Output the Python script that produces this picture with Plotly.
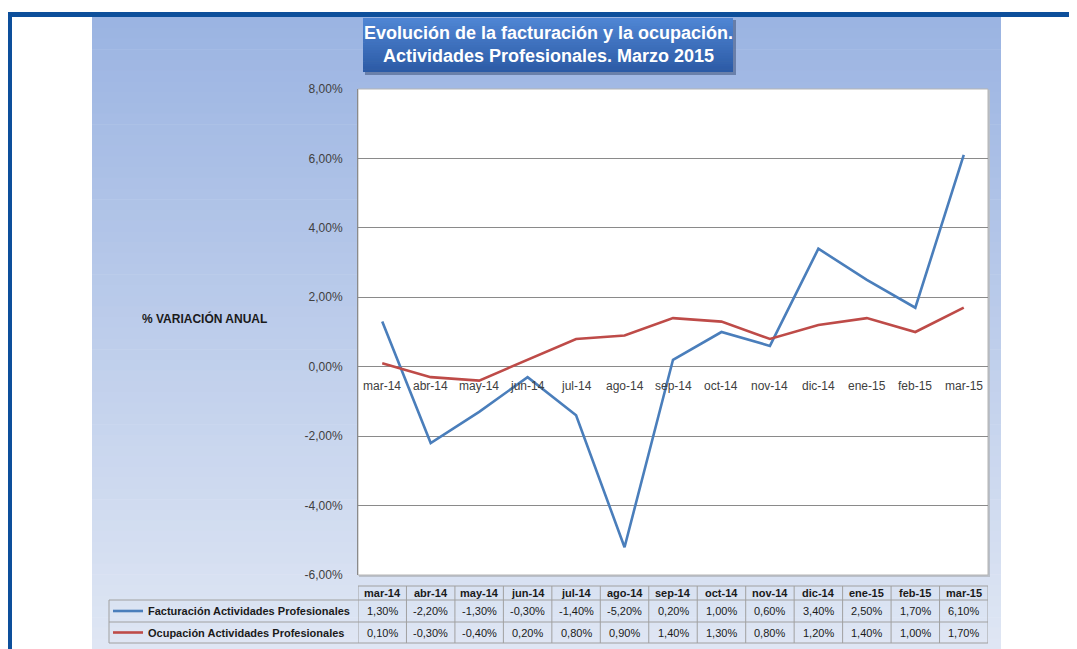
import plotly.graph_objects as go

# ---------------- data ----------------
categories = ["mar-14", "abr-14", "may-14", "jun-14", "jul-14", "ago-14", "sep-14",
              "oct-14", "nov-14", "dic-14", "ene-15", "feb-15", "mar-15"]
facturacion = [1.30, -2.20, -1.30, -0.30, -1.40, -5.20, 0.20, 1.00, 0.60, 3.40, 2.50, 1.70, 6.10]
ocupacion = [0.10, -0.30, -0.40, 0.20, 0.80, 0.90, 1.40, 1.30, 0.80, 1.20, 1.40, 1.00, 1.70]
series_names = ["Facturación Actividades Profesionales", "Ocupación Actividades Profesionales"]
series_colors = ["#4a7ebb", "#be4b48"]
y_ticks = [-6, -4, -2, 0, 2, 4, 6, 8]
y_ticktext = ["-6,00%", "-4,00%", "-2,00%", "0,00%", "2,00%", "4,00%", "6,00%", "8,00%"]
title_lines = ["Evolución de la facturación y la ocupación.", "Actividades Profesionales. Marzo 2015"]
y_title = "% VARIACIÓN ANUAL"

# ---------------- layout geometry (screen pixels; page body has an 8px margin) ----------------
OFF = 8
W, H = 1077, 649
PL, PR, PT, PB = 358, 988, 89, 575  # plot area in screen pixels


def px(x):
    return (x - PL) / (PR - PL)


def py(y):
    return (PB - y) / (PB - PT)


def fmt(v):
    return ("%.2f" % v).replace(".", ",") + "%"


def lerp_color(c1, c2, t):
    a = [int(c1[i:i + 2], 16) for i in (1, 3, 5)]
    b = [int(c2[i:i + 2], 16) for i in (1, 3, 5)]
    return "rgb(%d,%d,%d)" % tuple(round(a[k] + (b[k] - a[k]) * t) for k in range(3))


fig = go.Figure()
for name, vals, col in zip(series_names, [facturacion, ocupacion], series_colors):
    fig.add_trace(go.Scatter(x=categories, y=vals, mode="lines", name=name,
                             line=dict(color=col, width=2.6), showlegend=False,
                             hoverinfo="skip"))

shapes = []
# panel gradient background
top_y, bot_y = 17, 660
nb = 60
for i in range(nb):
    y0 = top_y + (bot_y - top_y) * i / nb
    y1 = top_y + (bot_y - top_y) * (i + 1) / nb + 0.6
    shapes.append(dict(type="rect", xref="paper", yref="paper", layer="below",
                       x0=px(92), x1=px(1001), y0=py(y0), y1=py(y1),
                       line=dict(width=0), fillcolor=lerp_color("#9bb4e2", "#e0e7f4", i / (nb - 1))))
# outer frame
shapes.append(dict(type="rect", xref="paper", yref="paper", layer="below",
                   x0=px(7), x1=px(1095), y0=py(12), y1=py(17),
                   line=dict(width=0), fillcolor="#0d4f9b"))
shapes.append(dict(type="rect", xref="paper", yref="paper", layer="below",
                   x0=px(7), x1=px(12), y0=py(12), y1=py(665),
                   line=dict(width=0), fillcolor="#0d4f9b"))
# plot area shadow + white bg
shapes.append(dict(type="rect", xref="paper", yref="paper", layer="below",
                   x0=px(PL + 1), x1=px(PR + 2), y0=py(PT + 1), y1=py(PB + 2),
                   line=dict(width=0), fillcolor="#b9bfc9"))
shapes.append(dict(type="rect", xref="paper", yref="paper", layer="below",
                   x0=0, x1=1, y0=0, y1=1,
                   line=dict(width=1, color="#b5b5b5"), fillcolor="white"))
# title box shadow + gradient
shapes.append(dict(type="rect", xref="paper", yref="paper", layer="below",
                   x0=px(365), x1=px(736), y0=py(20), y1=py(75),
                   line=dict(width=0), fillcolor="rgba(40,60,100,0.45)"))
tb = 20
for i in range(tb):
    y0 = 18 + (72 - 18) * i / tb
    y1 = 18 + (72 - 18) * (i + 1) / tb + 0.5
    shapes.append(dict(type="rect", xref="paper", yref="paper", layer="below",
                       x0=px(363), x1=px(733), y0=py(y0), y1=py(min(y1, 72)),
                       line=dict(width=0), fillcolor=lerp_color("#4f85d3", "#2c5ba6", i / (tb - 1))))

# data table grid
grid_col = "#a0a0a0"
r_head, r1, r2, r_end = 586, 600, 622, 643
n = len(categories)
for i in range(n + 1):
    shapes.append(dict(type="line", xref="x", yref="paper", x0=i - 0.5, x1=i - 0.5,
                       y0=py(r_head), y1=py(r_end), line=dict(color=grid_col, width=1)))
shapes.append(dict(type="line", xref="x", yref="paper", x0=-0.5, x1=n - 0.5,
                   y0=py(r_head), y1=py(r_head), line=dict(color=grid_col, width=1)))
for yy in (r1, r2, r_end):
    shapes.append(dict(type="line", xref="paper", yref="paper", x0=px(109), x1=1,
                       y0=py(yy), y1=py(yy), line=dict(color=grid_col, width=1)))
shapes.append(dict(type="line", xref="paper", yref="paper", x0=px(109), x1=px(109),
                   y0=py(r1), y1=py(r_end), line=dict(color=grid_col, width=1)))
# legend keys in table
for (ya, yb), col in zip([(r1, r2), (r2, r_end)], series_colors):
    ym = (ya + yb) / 2
    shapes.append(dict(type="line", xref="paper", yref="paper", x0=px(113), x1=px(143),
                       y0=py(ym), y1=py(ym), line=dict(color=col, width=2.6)))

annotations = []
FONT = "Liberation Sans, Arial, sans-serif"
TFONT = "Liberation Sans Narrow, Arial Narrow, Liberation Sans, Arial, sans-serif"
# title
annotations.append(dict(xref="paper", yref="paper", x=px(548), y=py(45), xanchor="center", yanchor="middle",
                        text="<b>" + "<br>".join(title_lines) + "</b>", showarrow=False,
                        font=dict(family=TFONT, size=18, color="white"), align="center"))
# y title
annotations.append(dict(xref="paper", yref="paper", x=px(204), y=py(318), xanchor="center", yanchor="middle",
                        text="<b>" + y_title + "</b>", showarrow=False,
                        font=dict(family=FONT, size=12, color="#1a1a1a")))
# category labels along zero line
for c in categories:
    annotations.append(dict(xref="x", yref="y", x=c, y=0, yshift=-19, text=c, showarrow=False,
                            xanchor="center", yanchor="middle",
                            font=dict(family=FONT, size=12, color="#404040")))
# table header + values
for i, c in enumerate(categories):
    annotations.append(dict(xref="x", yref="paper", x=c, y=py((r_head + r1) / 2), text="<b>" + c + "</b>",
                            xanchor="center", yanchor="middle",
                            showarrow=False, font=dict(family=FONT, size=11, color="#1a1a1a")))
    for (ya, yb), vals in zip([(r1, r2), (r2, r_end)], [facturacion, ocupacion]):
        annotations.append(dict(xref="x", yref="paper", x=c, y=py((ya + yb) / 2), text=fmt(vals[i]),
                                xanchor="center", yanchor="middle",
                                showarrow=False, font=dict(family=FONT, size=11, color="#1a1a1a")))
for (ya, yb), name in zip([(r1, r2), (r2, r_end)], series_names):
    annotations.append(dict(xref="paper", yref="paper", x=px(146), y=py((ya + yb) / 2),
                            xanchor="left", yanchor="middle",
                            text="<b>" + name + "</b>", showarrow=False,
                            font=dict(family=FONT, size=11, color="#1a1a1a")))

fig.update_layout(
    width=W, height=H,
    margin=dict(l=PL - OFF, r=W + OFF - PR, t=PT - OFF, b=H + OFF - PB, pad=0),
    paper_bgcolor="white", plot_bgcolor="rgba(0,0,0,0)",
    shapes=shapes, annotations=annotations,
    xaxis=dict(type="category", categoryorder="array", categoryarray=categories,
               range=[-0.5, n - 0.5], showticklabels=False, showgrid=False, zeroline=False,
               showline=False, ticks=""),
    yaxis=dict(range=[-6, 8], tickvals=y_ticks, ticktext=y_ticktext, showgrid=True,
               gridcolor="#8a8a8a", gridwidth=1, zeroline=False, showline=True,
               linecolor="#8a8a8a", linewidth=1, ticks="", ticklabelstandoff=12,
               tickfont=dict(family=FONT, size=12, color="#404040")),
    showlegend=False,
)
fig.write_html("out.html")
